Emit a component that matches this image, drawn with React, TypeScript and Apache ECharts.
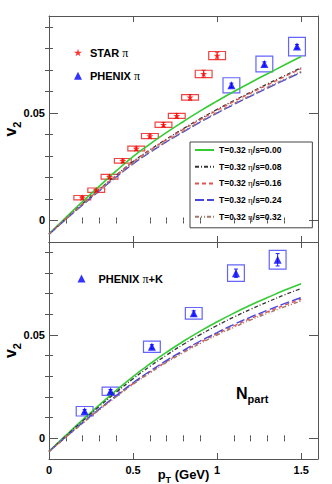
import React, { useEffect, useRef } from 'react';
import * as echarts from 'echarts';

// ---------------- data ----------------
const pT = [0, 0.1, 0.2, 0.3, 0.4, 0.5, 0.6, 0.7, 0.8, 0.9, 1.0, 1.1, 1.2, 1.3, 1.4, 1.5];

// top panel hydro curves (T=0.32, eta/s values)
const v2TopEta000 = [-0.0062, 0.0014, 0.0088, 0.016, 0.023, 0.0297, 0.0355, 0.0409, 0.046, 0.0509, 0.0555, 0.0599, 0.0641, 0.0682, 0.0722, 0.0762];
const v2TopEta008 = [-0.0063, 0.0008, 0.0078, 0.0145, 0.0211, 0.0274, 0.0328, 0.0379, 0.0427, 0.0473, 0.0516, 0.0557, 0.0596, 0.0635, 0.0672, 0.071];
const v2TopEta016 = [-0.0063, 0.0008, 0.0077, 0.0144, 0.0209, 0.0272, 0.0326, 0.0376, 0.0424, 0.0469, 0.0512, 0.0553, 0.0592, 0.063, 0.0668, 0.0705];
const v2TopEta024 = [-0.0065, 0.0005, 0.0072, 0.0138, 0.0202, 0.0263, 0.0316, 0.0366, 0.0412, 0.0457, 0.0499, 0.0539, 0.0578, 0.0615, 0.0652, 0.0688];
const v2TopEta032 = [-0.0064, 0.0006, 0.0074, 0.014, 0.0204, 0.0266, 0.0319, 0.0368, 0.0415, 0.046, 0.0502, 0.0543, 0.0581, 0.0619, 0.0656, 0.0692];

// bottom panel hydro curves
const v2BotEta000 = [-0.0063, 0.0014, 0.0089, 0.0162, 0.0232, 0.0299, 0.036, 0.0417, 0.047, 0.0519, 0.0564, 0.0606, 0.0645, 0.0681, 0.0716, 0.0748];
const v2BotEta008 = [-0.0064, 0.0011, 0.0084, 0.0155, 0.0223, 0.0288, 0.0348, 0.0403, 0.0455, 0.0502, 0.0546, 0.0587, 0.0625, 0.066, 0.0694, 0.0725];
const v2BotEta016 = [-0.0064, 0.0006, 0.0074, 0.0141, 0.0204, 0.0265, 0.0321, 0.0372, 0.0421, 0.0465, 0.0506, 0.0544, 0.058, 0.0612, 0.0644, 0.0673];
const v2BotEta024 = [-0.0064, 0.0007, 0.0076, 0.0143, 0.0207, 0.0269, 0.0325, 0.0377, 0.0426, 0.0471, 0.0512, 0.0551, 0.0587, 0.062, 0.0652, 0.0681];
const v2BotEta032 = [-0.0064, 0.0005, 0.0073, 0.0138, 0.0201, 0.0261, 0.0316, 0.0368, 0.0415, 0.0459, 0.05, 0.0537, 0.0573, 0.0605, 0.0636, 0.0665];

// STAR pi
const starX = [0.198, 0.281, 0.36, 0.439, 0.519, 0.6, 0.681, 0.76, 0.839, 0.92, 1.0];
const starV = [0.0106, 0.0141, 0.0203, 0.0277, 0.0334, 0.0392, 0.0445, 0.0486, 0.0572, 0.0681, 0.0766];
const starStat = [0.0006, 0.0006, 0.0007, 0.0008, 0.0008, 0.0009, 0.001, 0.0011, 0.0013, 0.0017, 0.0016];
const starSys = [0.001, 0.001, 0.0011, 0.0011, 0.0011, 0.0012, 0.0012, 0.0012, 0.0013, 0.0017, 0.0019];

// PHENIX pi
const phxPiX = [1.085, 1.281, 1.475];
const phxPiV = [0.0628, 0.0727, 0.0808];
const phxPiStat = [0.001, 0.001, 0.001];
const phxPiSys = [0.0035, 0.0037, 0.0043];

// PHENIX pi+K
const phxPiKX = [0.212, 0.366, 0.612, 0.861, 1.112, 1.36];
const phxPiKV = [0.0131, 0.0228, 0.0443, 0.0605, 0.0799, 0.0864];
const phxPiKStat = [0.0008, 0.0008, 0.001, 0.0012, 0.002, 0.003];
const phxPiKSys = [0.0023, 0.002, 0.0027, 0.0028, 0.004, 0.0045];

const boxHalfWidth = 0.05;

const xMajor = [0, 0.5, 1, 1.5];
const xMinor = [0.1, 0.2, 0.3, 0.4, 0.6, 0.7, 0.8, 0.9, 1.1, 1.2, 1.3, 1.4];
const yMajor = [0, 0.05];
const yMinor = [0.01, 0.02, 0.03, 0.04, 0.06, 0.07, 0.08, 0.09];

const curveNames = [
  'T=0.32 η/s=0.00',
  'T=0.32 η/s=0.08',
  'T=0.32 η/s=0.16',
  'T=0.32 η/s=0.24',
  'T=0.32 η/s=0.32',
];

// ---------------- styles ----------------
const FONT = '"Liberation Sans", Arial, Helvetica, sans-serif';
const SERIF = '"Liberation Serif", "Times New Roman", serif';
const FRAME = '#555555';
const curveStyles = [
  { color: '#33cc33', type: 'solid' as any, width: 1.6 },
  { color: '#333333', type: [4, 2, 1, 2] as any, width: 1.3 },
  { color: '#e05555', type: [4, 3] as any, width: 1.4 },
  { color: '#4848dd', type: [9, 3] as any, width: 1.4 },
  { color: '#a07a6a', type: [4, 2, 1, 2, 1, 2] as any, width: 1.4 },
];
const STAR_PATH = 'path://M50,0 L61,35 L98,35 L68,57 L79,91 L50,70 L21,91 L32,57 L2,35 L39,35 Z';

function xAxesFor(grid: number, showLabels: boolean) {
  const base: any = {
    type: 'value', gridIndex: grid, min: 0, max: 1.6,
    splitLine: { show: false },
    axisLine: { show: true, onZero: false, lineStyle: { color: FRAME, width: 1 } },
  };
  const major: any = {
    ...base, position: 'bottom',
    axisTick: { show: true, inside: true, length: 6, customValues: xMajor, lineStyle: { color: FRAME } },
    axisLabel: showLabels
      ? { show: true, customValues: xMajor, margin: 5, fontSize: 11, fontWeight: 'bold', color: '#000', fontFamily: FONT,
          formatter: (v: number) => String(v) }
      : { show: false },
  };
  if (showLabels) {
    major.name = '{p|p}{t|T}{g| (GeV)}';
    major.nameLocation = 'middle';
    major.nameGap = 9;
    major.nameMoveOverlap = false;
    major.nameTextStyle = {
      rich: {
        p: { fontSize: 13, fontWeight: 'bold', fontFamily: FONT, color: '#000', lineHeight: 14, verticalAlign: 'top' },
        t: { fontSize: 9, fontWeight: 'bold', fontFamily: FONT, color: '#000', lineHeight: 9, padding: [7, 0, 0, 0], verticalAlign: 'top' },
        g: { fontSize: 13, fontWeight: 'bold', fontFamily: FONT, color: '#000', lineHeight: 14, verticalAlign: 'top' },
      },
    };
  }
  const minor: any = {
    ...base, position: 'bottom', axisLine: { show: false },
    axisTick: { show: true, inside: true, length: 3, customValues: xMinor, lineStyle: { color: FRAME } },
    axisLabel: { show: false },
  };
  const topMajor: any = {
    ...base, position: 'top',
    axisTick: { show: true, inside: true, length: 6, customValues: xMajor, lineStyle: { color: FRAME } },
    axisLabel: { show: false },
  };
  const topMinor: any = {
    ...base, position: 'top', axisLine: { show: false },
    axisTick: { show: true, inside: true, length: 3, customValues: xMinor, lineStyle: { color: FRAME } },
    axisLabel: { show: false },
  };
  return [major, minor, topMajor, topMinor];
}

function yAxesFor(grid: number) {
  const base: any = {
    type: 'value', gridIndex: grid, min: -0.01, max: 0.095,
    splitLine: { show: false },
    axisLine: { show: true, onZero: false, lineStyle: { color: FRAME, width: 1 } },
  };
  const major: any = {
    ...base, position: 'left',
    axisTick: { show: true, inside: true, length: 9, customValues: yMajor, lineStyle: { color: FRAME } },
    axisLabel: { show: true, customValues: yMajor, margin: 4, fontSize: 11, fontWeight: 'bold', color: '#000', fontFamily: FONT,
      formatter: (v: number) => (v === 0 ? '0' : String(v)) },
    name: '{v|v}{s|2}',
    nameLocation: 'middle',
    nameRotate: 90,
    nameGap: 31,
    nameMoveOverlap: false,
    nameTextStyle: {
      rich: {
        v: { fontSize: 16, fontWeight: 'bold', fontFamily: FONT, color: '#000', lineHeight: 16, verticalAlign: 'top' },
        s: { fontSize: 11, fontWeight: 'bold', fontFamily: FONT, color: '#000', lineHeight: 11, padding: [9, 0, 0, 0], verticalAlign: 'top' },
      },
    },
  };
  const minor: any = {
    ...base, position: 'left', axisLine: { show: false },
    axisTick: { show: true, inside: true, length: 4, customValues: yMinor, lineStyle: { color: FRAME } },
    axisLabel: { show: false },
  };
  const rMajor: any = {
    ...base, position: 'right',
    axisTick: { show: true, inside: true, length: 9, customValues: yMajor, lineStyle: { color: FRAME } },
    axisLabel: { show: false },
  };
  const rMinor: any = {
    ...base, position: 'right', axisLine: { show: false },
    axisTick: { show: true, inside: true, length: 4, customValues: yMinor, lineStyle: { color: FRAME } },
    axisLabel: { show: false },
  };
  return [major, minor, rMajor, rMinor];
}

function boxSeries(name: string, xs: number[], vs: number[], sys: number[], color: string, xi: number, yi: number) {
  return {
    name, type: 'custom', xAxisIndex: xi, yAxisIndex: yi, z: 2,
    data: xs.map((x, i) => [x, vs[i], boxHalfWidth, sys[i]]),
    renderItem: (_p: any, api: any) => {
      const x = api.value(0), y = api.value(1), dx = api.value(2), dy = api.value(3);
      const a = api.coord([x - dx, y + dy]);
      const b = api.coord([x + dx, y - dy]);
      return {
        type: 'rect',
        shape: { x: a[0], y: a[1], width: b[0] - a[0], height: b[1] - a[1] },
        style: { fill: 'none', stroke: color, lineWidth: 1.2 },
      };
    },
    silent: true,
  };
}

function errSeries(name: string, xs: number[], vs: number[], err: number[], color: string, xi: number, yi: number) {
  return {
    name, type: 'custom', xAxisIndex: xi, yAxisIndex: yi, z: 3,
    data: xs.map((x, i) => [x, vs[i], err[i]]),
    renderItem: (_p: any, api: any) => {
      const x = api.value(0), y = api.value(1), e = api.value(2);
      const t = api.coord([x, y + e]);
      const b = api.coord([x, y - e]);
      const st = { stroke: color, lineWidth: 1 };
      return {
        type: 'group',
        children: [
          { type: 'line', shape: { x1: t[0], y1: t[1], x2: b[0], y2: b[1] }, style: st },
          { type: 'line', shape: { x1: t[0] - 2, y1: t[1], x2: t[0] + 2, y2: t[1] }, style: st },
          { type: 'line', shape: { x1: b[0] - 2, y1: b[1], x2: b[0] + 2, y2: b[1] }, style: st },
        ],
      };
    },
    silent: true,
  };
}

function curveSeries(curves: number[][], xi: number, yi: number) {
  return curves.map((c, k) => ({
    name: curveNames[k], type: 'line', xAxisIndex: xi, yAxisIndex: yi, z: 4,
    data: pT.map((x, i) => [x, c[i]]),
    smooth: true, symbol: 'none', showSymbol: false,
    lineStyle: curveStyles[k], itemStyle: { color: curveStyles[k].color },
  }));
}

const richLegend = {
  b: { fontSize: 8.5, fontWeight: 'bold', fontFamily: FONT, color: '#000' },
  g: { fontSize: 9, fontWeight: 'normal', fontFamily: SERIF, color: '#000' },
  n: { fontSize: 11, fontWeight: 'bold', fontFamily: FONT, color: '#000' },
  p: { fontSize: 12, fontWeight: 'normal', fontFamily: SERIF, color: '#000' },
};

export default function App() {
  const ref = useRef<HTMLDivElement>(null);
  useEffect(() => {
    if (!ref.current) return;
    const chart = echarts.init(ref.current, undefined, { renderer: 'svg' });
    const option: any = {
      animation: false,
      backgroundColor: '#ffffff',
      grid: [
        { left: 49, top: 16, width: 269, height: 226, containLabel: false, outerBoundsMode: 'none' },
        { left: 49, top: 242, width: 269, height: 217, containLabel: false, outerBoundsMode: 'none' },
      ],
      xAxis: [...xAxesFor(0, false), ...xAxesFor(1, true)],
      yAxis: [...yAxesFor(0), ...yAxesFor(1)],
      legend: [
        {
          orient: 'vertical', left: 190, top: 142, selectedMode: false,
          data: curveNames,
          itemWidth: 19, itemHeight: 8, itemGap: 6.7,
          padding: [3, 31, 6, 4],
          borderColor: '#444', borderWidth: 1,
          itemStyle: { color: 'transparent', borderWidth: 0, opacity: 0 },
          textStyle: { rich: richLegend, lineHeight: 10 },
          formatter: (name: string) => {
            const m = name.split('η');
            return `{b|${m[0]}}{g|η}{b|${m[1]}}`;
          },
        },
        {
          orient: 'vertical', left: 74, top: 46, selectedMode: false,
          data: ['STAR π', 'PHENIX π'],
          itemWidth: 8, itemHeight: 8, itemGap: 10.3, padding: 0,
          textStyle: { rich: richLegend, lineHeight: 13, padding: [0, 0, 0, 3] },
          formatter: (name: string) => {
            const m = name.split('π');
            return `{n|${m[0]}}{p|π}`;
          },
        },
        {
          orient: 'vertical', left: 77.5, top: 272, selectedMode: false,
          data: ['PHENIX π+K'],
          itemWidth: 8, itemHeight: 8, padding: 0,
          textStyle: { rich: richLegend, lineHeight: 13, padding: [0, 0, 0, 8] },
          formatter: (name: string) => {
            const m = name.split('π');
            return `{n|${m[0]}}{p|π}{n|${m[1]}}`;
          },
        },
      ],
      graphic: [
        {
          type: 'text', left: 236, top: 385, silent: true,
          style: {
            text: '{n|N}{s|part}',
            rich: {
              n: { fontSize: 16, fontWeight: 'bold', fontFamily: FONT, fill: '#000', lineHeight: 16, verticalAlign: 'top' },
              s: { fontSize: 11, fontWeight: 'bold', fontFamily: FONT, fill: '#000', lineHeight: 11, padding: [8, 0, 0, 0], verticalAlign: 'top' },
            },
          },
        },
      ],
      series: [
        // top panel
        boxSeries('starSys', starX, starV, starSys, '#ee4444', 0, 0),
        errSeries('starStat', starX, starV, starStat, '#ee2222', 0, 0),
        boxSeries('phxPiSys', phxPiX, phxPiV, phxPiSys, '#6464ff', 0, 0),
        errSeries('phxPiStat', phxPiX, phxPiV, phxPiStat, '#2222ff', 0, 0),
        ...curveSeries([v2TopEta000, v2TopEta008, v2TopEta016, v2TopEta024, v2TopEta032], 0, 0),
        {
          name: 'STAR π', type: 'scatter', xAxisIndex: 0, yAxisIndex: 0, z: 5,
          symbol: STAR_PATH, symbolSize: 7, itemStyle: { color: '#ff0000' },
          data: starX.map((x, i) => [x, starV[i]]),
        },
        {
          name: 'PHENIX π', type: 'scatter', xAxisIndex: 0, yAxisIndex: 0, z: 5,
          symbol: 'triangle', symbolSize: 8, itemStyle: { color: '#0000ff' },
          data: phxPiX.map((x, i) => [x, phxPiV[i]]),
        },
        // bottom panel
        boxSeries('phxPiKSys', phxPiKX, phxPiKV, phxPiKSys, '#6464ff', 4, 4),
        errSeries('phxPiKStat', phxPiKX, phxPiKV, phxPiKStat, '#2222ff', 4, 4),
        ...curveSeries([v2BotEta000, v2BotEta008, v2BotEta016, v2BotEta024, v2BotEta032], 4, 4),
        {
          name: 'PHENIX π+K', type: 'scatter', xAxisIndex: 4, yAxisIndex: 4, z: 5,
          symbol: 'triangle', symbolSize: 8, itemStyle: { color: '#0000ff' },
          data: phxPiKX.map((x, i) => [x, phxPiKV[i]]),
        },
      ],
    };
    chart.setOption(option);
    return () => chart.dispose();
  }, []);
  return (
    <div
      ref={ref}
      style={{ position: 'absolute', left: 0, top: 0, width: 332, height: 484, background: '#fff' }}
    />
  );
}
